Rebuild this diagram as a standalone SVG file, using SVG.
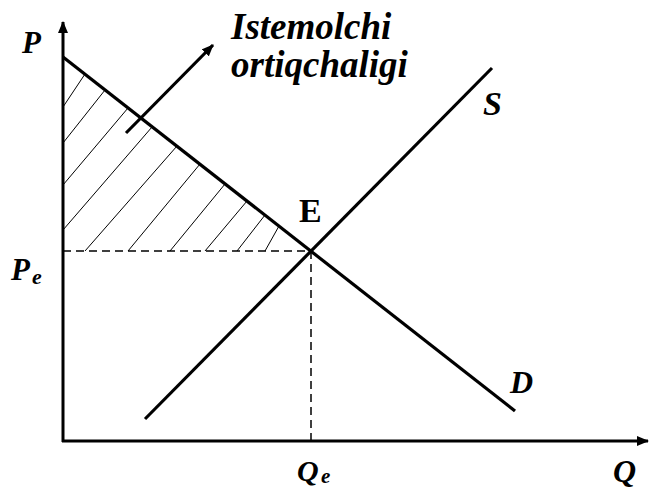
<svg xmlns="http://www.w3.org/2000/svg" width="649" height="491" viewBox="0 0 649 491">
<style>
.ax{stroke:#000;stroke-width:3;fill:none}
.ln{stroke:#000;stroke-width:3.2;fill:none;stroke-linecap:butt}
.ds{stroke:#000;stroke-width:1.5;stroke-dasharray:8,5;fill:none}
.ht{stroke:#000;stroke-width:1;fill:none}
</style>
<defs>
<marker id="ah" markerWidth="12" markerHeight="10" refX="11" refY="5" orient="auto" markerUnits="userSpaceOnUse">
<path d="M0,0 L12,5 L0,10 Z" fill="#000"/>
</marker>
</defs>
<rect width="649" height="491" fill="#fff"/>
<g id="hatching">
<line class="ht" x1="63" y1="107" x2="85" y2="74"/>
<line class="ht" x1="63" y1="143" x2="105" y2="90"/>
<line class="ht" x1="63" y1="185" x2="128" y2="108"/>
<line class="ht" x1="63" y1="230" x2="152" y2="127"/>
<line class="ht" x1="85" y1="251" x2="177" y2="146"/>
<line class="ht" x1="128" y1="251" x2="200" y2="164"/>
<line class="ht" x1="170" y1="251" x2="225" y2="184"/>
<line class="ht" x1="205" y1="251" x2="247" y2="201"/>
<line class="ht" x1="237" y1="251" x2="265" y2="215"/>
<line class="ht" x1="265" y1="251" x2="279" y2="226"/>
</g>
<g id="connectors">
<line class="ds" x1="63" y1="251" x2="311" y2="251"/>
<line class="ds" x1="311" y1="251" x2="311" y2="441"/>
<line id="demand" class="ln" x1="63" y1="57" x2="515" y2="411"/>
<line id="supply" class="ln" x1="145" y1="419" x2="492" y2="68"/>
<line id="y-axis" class="ax" x1="63" y1="442" x2="63" y2="22" marker-end="url(#ah)"/>
<line id="x-axis" class="ax" x1="62" y1="441" x2="648" y2="441" marker-end="url(#ah)"/>
<line id="label-arrow" class="ln" x1="126" y1="133" x2="213" y2="45" marker-end="url(#ah)"/>
</g>
<g font-family="'Liberation Serif', 'Times New Roman', serif" font-weight="bold" fill="#000">
<g id="label-P"><text font-style="italic" x="22" y="53" font-size="31">P</text></g>
<g id="label-Pe"><text font-style="italic" x="11" y="280" font-size="31">P</text><text font-style="italic" x="32" y="284" font-size="22">e</text></g>
<g id="label-E"><text x="299" y="222" font-size="34">E</text></g>
<g id="label-S"><text font-style="italic" x="483" y="115" font-size="34">S</text></g>
<g id="label-D"><text font-style="italic" x="510" y="393" font-size="32">D</text></g>
<g id="label-Qe"><text font-style="italic" x="297" y="481" font-size="30">Q</text><text font-style="italic" x="321" y="483" font-size="21">e</text></g>
<g id="label-Q"><text font-style="italic" x="613" y="482" font-size="32">Q</text></g>
<g id="label-surplus">
<text font-style="italic" x="231" y="39" font-size="37">Istemolchi</text>
<text font-style="italic" x="231" y="77" font-size="37">ortiqchaligi</text>
</g>
</g>
</svg>
